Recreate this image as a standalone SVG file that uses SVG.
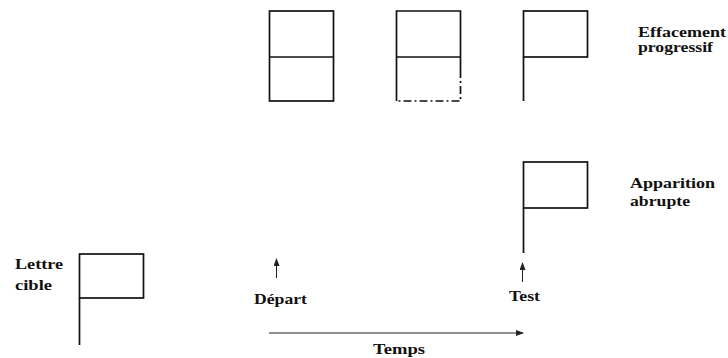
<svg xmlns="http://www.w3.org/2000/svg" width="728" height="358" viewBox="0 0 728 358">
<style>
.s{fill:none;stroke:#111;stroke-width:1.7}
.a{fill:none;stroke:#222;stroke-width:1}
.t{font-family:"Liberation Serif","Times New Roman",serif;font-weight:bold;font-size:14px;fill:#111}
</style>
<defs>
<marker id="ah" markerWidth="8" markerHeight="6" refX="7" refY="3" orient="auto" markerUnits="userSpaceOnUse">
<path d="M0,0 L8,3 L0,6 Z" fill="#222"/>
</marker>
</defs>
<rect width="728" height="358" fill="#fff"/>
<g id="box1">
<rect class="s" x="269.5" y="11" width="64" height="90"/>
<line class="s" x1="269.5" y1="57" x2="333.5" y2="57"/>
</g>
<g id="box2">
<path class="s" d="M396.5,101 L396.5,11 L460.5,11 L460.5,70"/>
<line class="s" x1="396.5" y1="57" x2="460.5" y2="57"/>
<path class="s" d="M460.5,70 L460.5,101 L396.5,101" stroke-dasharray="8,3,2,3"/>
</g>
<g id="flag3">
<rect class="s" x="523.5" y="11" width="64" height="46"/>
<line class="s" x1="523.5" y1="57" x2="523.5" y2="101"/>
</g>
<g id="label-effacement">
<text class="t" x="638" y="37" textLength="88" lengthAdjust="spacingAndGlyphs">Effacement</text>
<text class="t" x="638" y="52" textLength="75" lengthAdjust="spacingAndGlyphs">progressif</text>
</g>
<g id="flag4">
<rect class="s" x="523.5" y="162" width="64" height="46"/>
<line class="s" x1="523.5" y1="208" x2="523.5" y2="253"/>
</g>
<g id="label-apparition">
<text class="t" x="630" y="188" textLength="85" lengthAdjust="spacingAndGlyphs">Apparition</text>
<text class="t" x="630" y="206" textLength="60" lengthAdjust="spacingAndGlyphs">abrupte</text>
</g>
<g id="target">
<rect class="s" x="79.5" y="254" width="64" height="44"/>
<line class="s" x1="79.5" y1="298" x2="79.5" y2="345"/>
</g>
<g id="label-lettre">
<text class="t" x="15" y="269" textLength="48" lengthAdjust="spacingAndGlyphs">Lettre</text>
<text class="t" x="15" y="290" textLength="37" lengthAdjust="spacingAndGlyphs">cible</text>
</g>
<g id="connectors">
<line class="a" x1="276.5" y1="278" x2="276.5" y2="259" marker-end="url(#ah)"/>
<line class="a" x1="522.5" y1="282" x2="522.5" y2="263" marker-end="url(#ah)"/>
<line class="a" x1="269" y1="333" x2="523" y2="333" marker-end="url(#ah)"/>
</g>
<g id="label-depart">
<text class="t" x="254" y="304" textLength="53" lengthAdjust="spacingAndGlyphs">Départ</text>
</g>
<g id="label-test">
<text class="t" x="509" y="301" textLength="31" lengthAdjust="spacingAndGlyphs">Test</text>
</g>
<g id="label-temps">
<text class="t" x="373" y="354" textLength="52" lengthAdjust="spacingAndGlyphs">Temps</text>
</g>
</svg>
